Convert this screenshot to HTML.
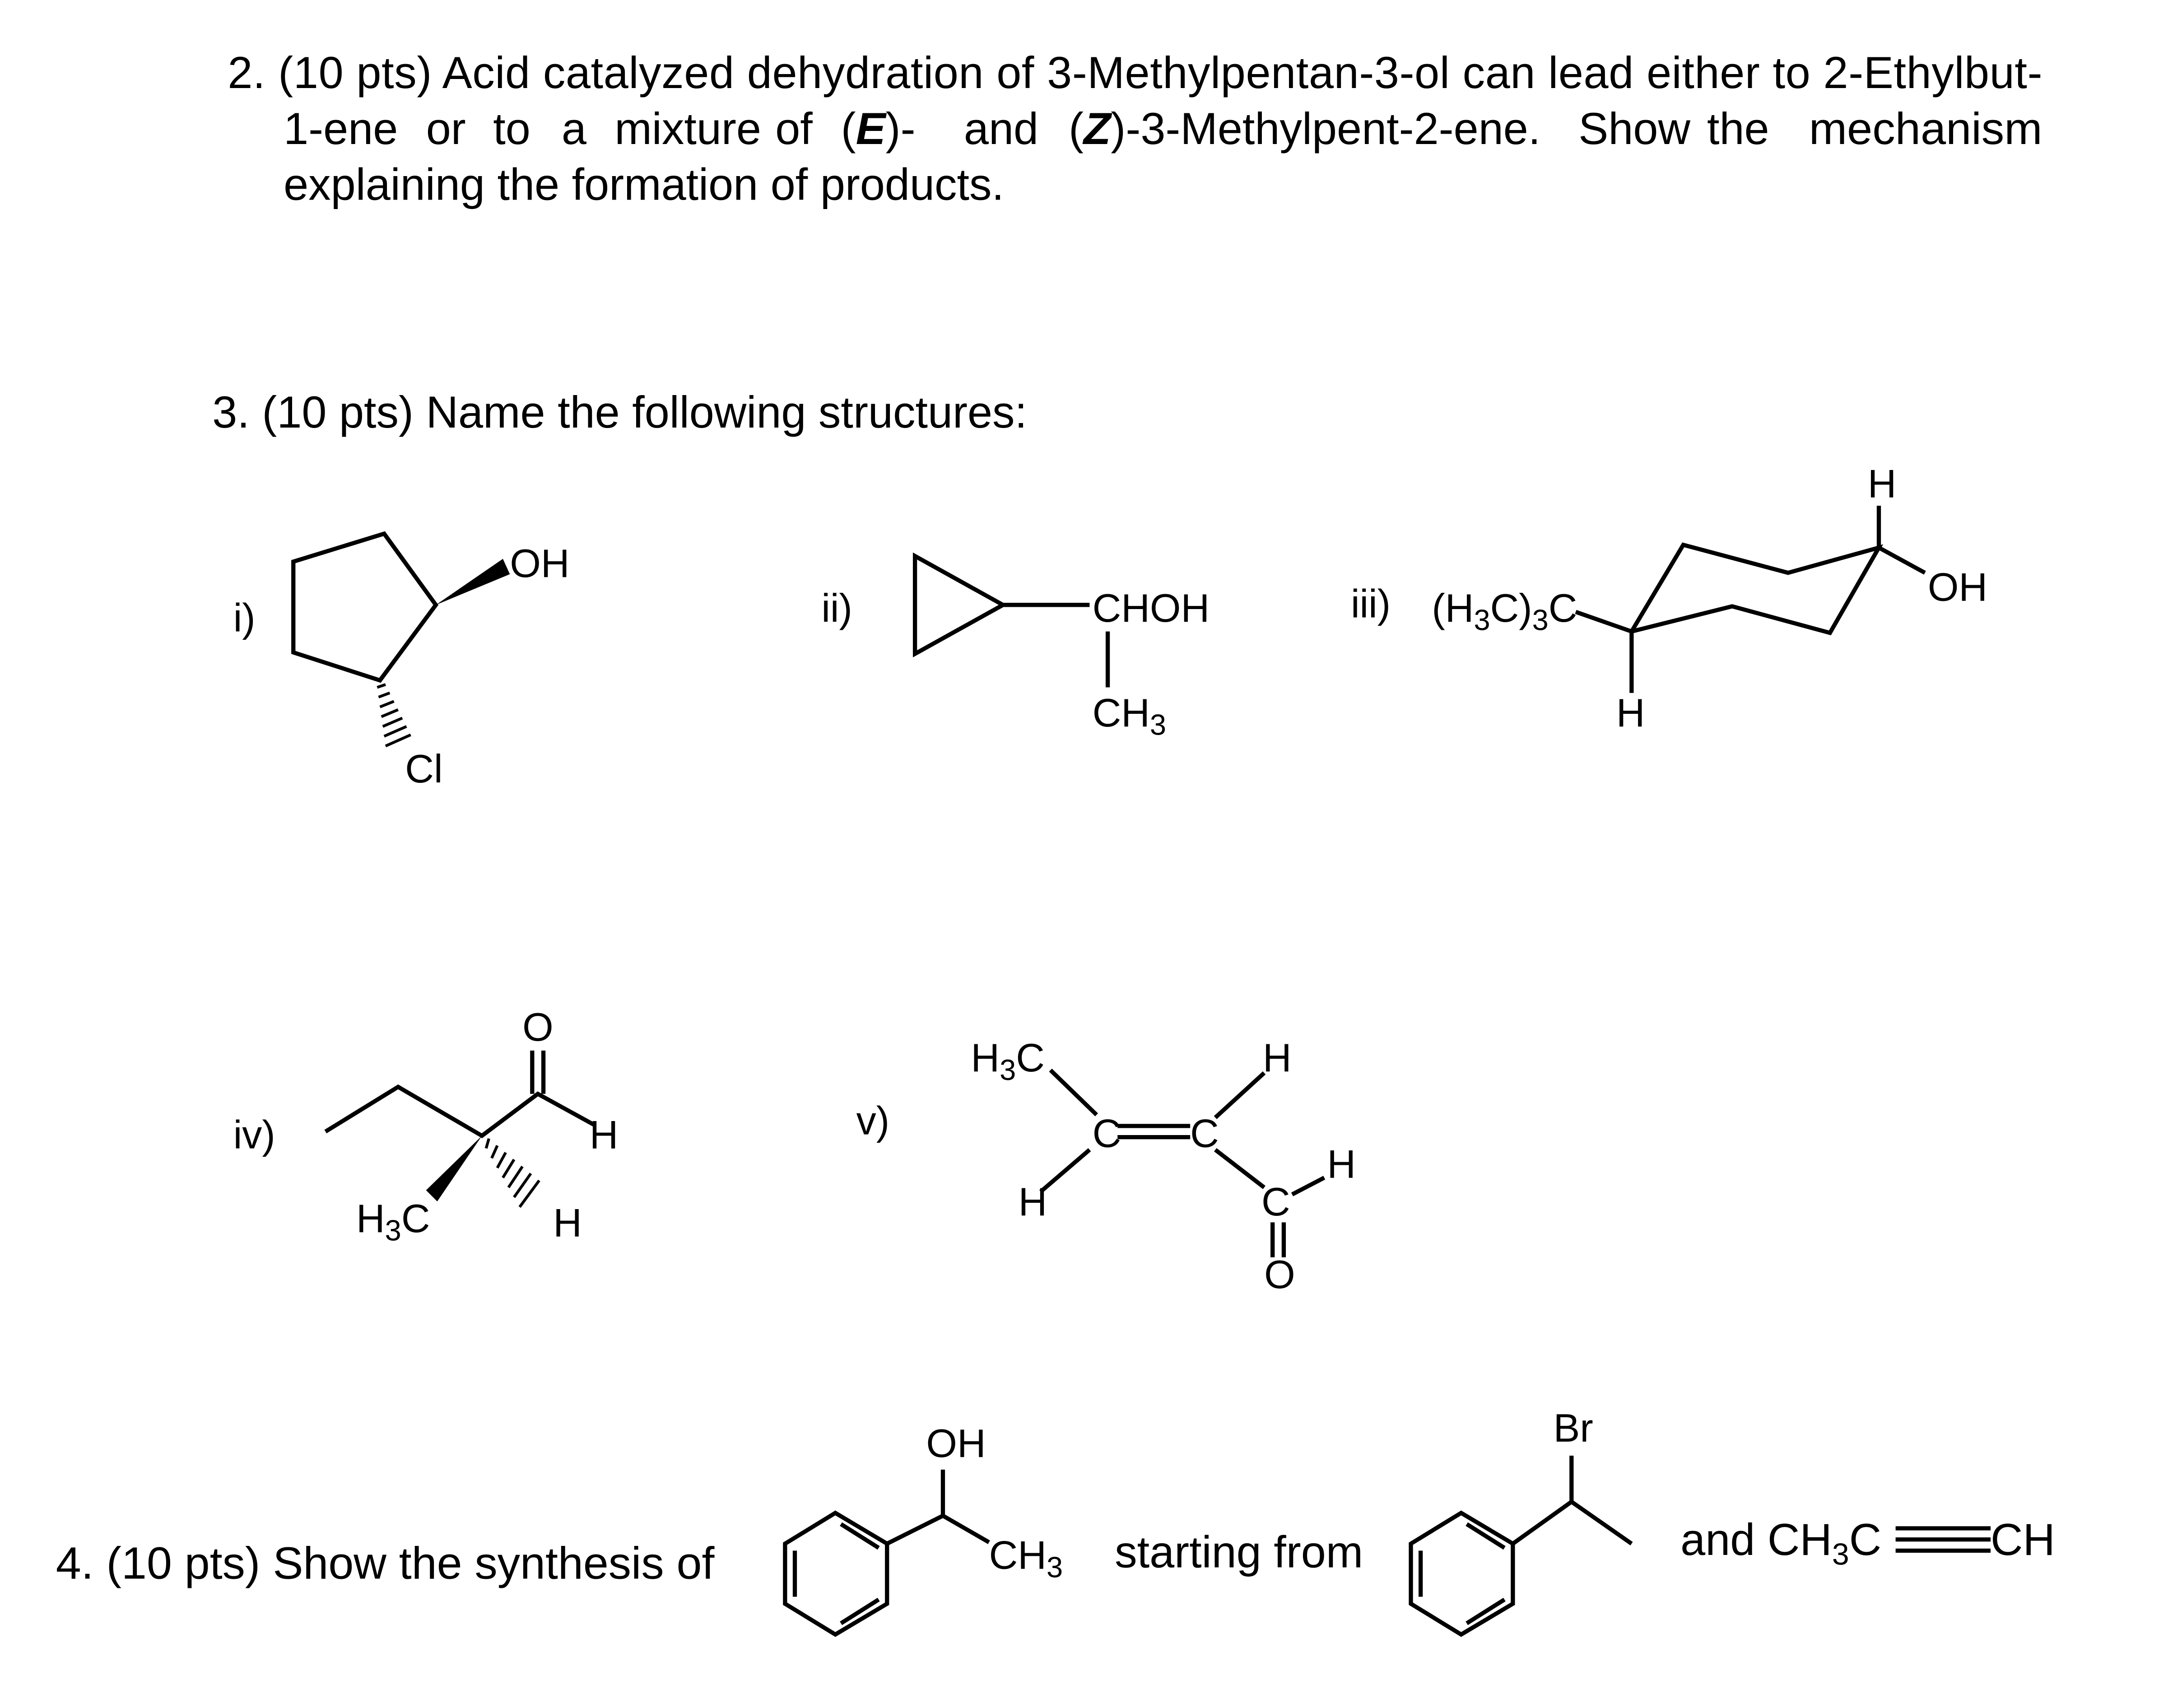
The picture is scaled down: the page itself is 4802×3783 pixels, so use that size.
<!DOCTYPE html>
<html><head><meta charset="utf-8"><style>
html,body{margin:0;padding:0;background:#fff;}
svg{display:block;}
text{font-family:"Liberation Sans",Arial,sans-serif;fill:#000;}
</style></head><body>
<svg width="4802" height="3783" viewBox="0 0 1552 1222.6" xmlns="http://www.w3.org/2000/svg">
<rect width="1552" height="1223" fill="#fff"/>
<g font-size="32">
<text x="163" y="63" textLength="1299" lengthAdjust="spacing">2. (10 pts) Acid catalyzed dehydration of 3-Methylpentan-3-ol can lead either to 2-Ethylbut-</text>
<text x="203" y="103">1-ene</text>
<text x="305" y="103">or</text>
<text x="353" y="103">to</text>
<text x="402" y="103">a</text>
<text x="440" y="103">mixture</text>
<text x="555" y="103">of</text>
<text x="602" y="103">(<tspan font-weight="bold" font-style="italic">E</tspan>)-</text>
<text x="690" y="103">and</text>
<text x="765" y="103">(<tspan font-weight="bold" font-style="italic">Z</tspan>)-3-Methylpent-2-ene.</text>
<text x="1130" y="103">Show</text>
<text x="1222" y="103">the</text>
<text x="1295" y="103" textLength="167" lengthAdjust="spacingAndGlyphs">mechanism</text>
<text x="203" y="143">explaining the formation of products.</text>
<text x="152" y="306">3. (10 pts) Name the following structures:</text>
<text x="40" y="1130" font-size="32.5">4. (10 pts) Show the synthesis of</text>
<text x="798" y="1122">starting from</text>
<text x="1203" y="1113">and CH<tspan font-size="22" dy="7">3</tspan><tspan dy="-7">C</tspan></text>
<text x="1425" y="1113">CH</text>
</g>
<g stroke="#000" stroke-width="3" fill="none">
<polygon points="210,402 275,382 312,433 272,487 210,467"/>
<polygon points="655,398 655,468 718,433"/>
<line x1="718" y1="433" x2="780" y2="433"/>
<line x1="793" y1="452" x2="793" y2="492"/>
<polyline points="1128,438 1168,452 1205,390 1280,410 1345,392 1310,453 1240,434 1168,452"/>
<line x1="1345" y1="392" x2="1345" y2="362"/>
<line x1="1345" y1="392" x2="1378" y2="410"/>
<line x1="1168" y1="452" x2="1168" y2="496"/>
<polyline points="233,810 285,778 345,813 385,783 425,805"/>
<line x1="381" y1="752" x2="381" y2="783"/>
<line x1="389" y1="752" x2="389" y2="783"/>
<line x1="752" y1="766" x2="785" y2="798"/>
<line x1="800" y1="806" x2="852" y2="806"/>
<line x1="800" y1="814" x2="852" y2="814"/>
<line x1="870" y1="800" x2="905" y2="768"/>
<line x1="780" y1="823" x2="745" y2="853"/>
<line x1="870" y1="823" x2="905" y2="850"/>
<line x1="925" y1="855" x2="948" y2="843"/>
<line x1="911" y1="875" x2="911" y2="900"/>
<line x1="919" y1="875" x2="919" y2="900"/>
<polygon points="562,1105 598,1083 635,1105 635,1148 598,1170 562,1148"/>
<line x1="569" y1="1110" x2="569" y2="1143"/>
<line x1="602" y1="1091" x2="629" y2="1108"/>
<line x1="602" y1="1162" x2="629" y2="1145"/>
<polyline points="635,1105 675,1085 708,1104"/>
<line x1="675" y1="1085" x2="675" y2="1052"/>
<polygon points="1010,1105 1046,1083 1083,1105 1083,1148 1046,1170 1010,1148"/>
<line x1="1017" y1="1110" x2="1017" y2="1143"/>
<line x1="1050" y1="1091" x2="1077" y2="1108"/>
<line x1="1050" y1="1162" x2="1077" y2="1145"/>
<polyline points="1083,1105 1125,1075 1168,1105"/>
<line x1="1125" y1="1075" x2="1125" y2="1042"/>
<line x1="1357" y1="1094" x2="1425" y2="1094"/>
<line x1="1357" y1="1102" x2="1425" y2="1102"/>
<line x1="1357" y1="1110" x2="1425" y2="1110"/>
</g>
<polygon points="312,433 360,400 365,411" fill="#000"/>
<polygon points="345,813 305,852 313,860" fill="#000"/>
<g stroke="#000" stroke-width="2">
<line x1="270" y1="492" x2="276" y2="490"/>
<line x1="271" y1="499" x2="279" y2="496"/>
<line x1="272" y1="506" x2="282" y2="502"/>
<line x1="273" y1="513" x2="285" y2="508"/>
<line x1="274" y1="520" x2="288" y2="514"/>
<line x1="275" y1="527" x2="291" y2="520"/>
<line x1="276" y1="534" x2="294" y2="526"/>
<line x1="350" y1="815" x2="348" y2="822"/>
<line x1="356" y1="820" x2="352" y2="829"/>
<line x1="362" y1="825" x2="356" y2="836"/>
<line x1="368" y1="830" x2="360" y2="843"/>
<line x1="374" y1="835" x2="364" y2="850"/>
<line x1="380" y1="840" x2="368" y2="857"/>
<line x1="386" y1="845" x2="372" y2="864"/>
</g>
<g font-size="28.5">
<text x="167" y="452">i)</text>
<text x="365" y="413">OH</text>
<text x="290" y="560">Cl</text>
<text x="588" y="445">ii)</text>
<text x="782" y="445">CHOH</text>
<text x="782" y="520">CH<tspan font-size="21" dy="6">3</tspan></text>
<text x="967" y="442">iii)</text>
<text x="1025" y="445">(H<tspan font-size="21" dy="6">3</tspan><tspan dy="-6">C)</tspan><tspan font-size="21" dy="6">3</tspan><tspan dy="-6">C</tspan></text>
<text x="1337" y="356">H</text>
<text x="1380" y="430">OH</text>
<text x="1157" y="520">H</text>
<text x="167" y="822">iv)</text>
<text x="374" y="745">O</text>
<text x="422" y="822">H</text>
<text x="396" y="885">H</text>
<text x="255" y="882">H<tspan font-size="21" dy="6">3</tspan><tspan dy="-6">C</tspan></text>
<text x="613" y="812">v)</text>
<text x="695" y="767">H<tspan font-size="21" dy="6">3</tspan><tspan dy="-6">C</tspan></text>
<text x="782" y="821">C</text>
<text x="852" y="821">C</text>
<text x="904" y="767">H</text>
<text x="729" y="870">H</text>
<text x="903" y="870">C</text>
<text x="950" y="843">H</text>
<text x="905" y="922">O</text>
<text x="663" y="1043">OH</text>
<text x="708" y="1123">CH<tspan font-size="21" dy="6">3</tspan></text>
<text x="1112" y="1032">Br</text>
</g>
</svg>
</body></html>
